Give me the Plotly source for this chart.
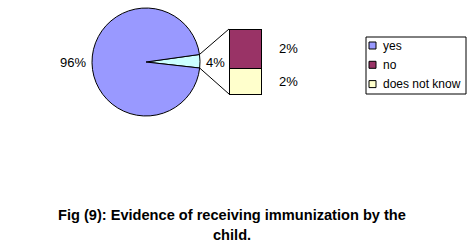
import math
import plotly.graph_objects as go

# ---- data ----
pie_labels = ["other", "yes"]
pie_values = [4, 96]
pie_text = ["4%", "96%"]
bar_labels = ["does not know", "no"]
bar_values = [1.6, 2.4]
bar_text = ["2%", "2%"]
legend_labels = ["yes", "no", "does not know"]
title_lines = ["Fig (9): Evidence of receiving immunization by the", "child."]

# ---- style ----
W, H = 471, 248
C_YES, C_OTHER, C_NO, C_DNK = "#9999FF", "#CCFFFF", "#993366", "#FFFFCC"
FONT = "Liberation Sans, Arial, sans-serif"
cx, cy, r = 146, 62, 54
rotation = 82
bar_x0, bar_x1, bar_top, bar_bot = 229, 261, 29, 94
pad = 4  # pixels of axis padding so outlines are not clipped

def px(x):
    return x / W

def py(y):
    return 1 - y / H

fig = go.Figure()
fig.add_trace(go.Pie(
    labels=pie_labels, values=pie_values, sort=False, direction="clockwise",
    rotation=rotation, textinfo="none", hoverinfo="label+percent",
    marker=dict(colors=[C_OTHER, C_YES], line=dict(color="black", width=1)),
    domain=dict(x=[px(cx - r), px(cx + r)], y=[py(cy + r), py(cy - r)]),
    showlegend=False,
))

for lab, val, col in zip(bar_labels, bar_values, [C_DNK, C_NO]):
    fig.add_trace(go.Bar(
        x=[0], y=[val], name=lab, width=1, showlegend=False,
        marker=dict(color=col, line=dict(color="black", width=1)),
        xaxis="x", yaxis="y", cliponaxis=False,
    ))

total_other = sum(bar_values)
bw = bar_x1 - bar_x0
bh = bar_bot - bar_top
dx = pad / bw
dy = pad / bh * total_other
fig.update_layout(
    width=W, height=H, margin=dict(l=0, r=0, t=0, b=0),
    paper_bgcolor="white", plot_bgcolor="rgba(0,0,0,0)",
    barmode="stack",
    xaxis=dict(domain=[px(bar_x0 - pad), px(bar_x1 + pad)], range=[-0.5 - dx, 0.5 + dx],
               visible=False, fixedrange=True),
    yaxis=dict(domain=[py(bar_bot + pad), py(bar_top - pad)], range=[-dy, total_other + dy],
               visible=False, fixedrange=True),
)

# connector lines from pie slice edges to bar corners
tot = sum(pie_values)
a1 = math.radians(rotation)
a2 = math.radians(rotation + 360 * pie_values[0] / tot)
for a, by in [(a1, bar_top), (a2, bar_bot)]:
    ex = cx + r * math.sin(a)
    ey = cy - r * math.cos(a)
    fig.add_shape(type="line", xref="paper", yref="paper",
                  x0=px(ex), y0=py(ey), x1=px(bar_x0), y1=py(by),
                  line=dict(color="black", width=1))

# pie labels
fig.add_annotation(x=px(cx - r - 4), y=py(cy), xref="paper", yref="paper",
                   text=pie_text[1], showarrow=False, xanchor="right", yanchor="middle",
                   font=dict(family=FONT, size=13, color="black"))
fig.add_annotation(x=px(cx + r + 4), y=py(cy), xref="paper", yref="paper",
                   text=pie_text[0], showarrow=False, xanchor="left", yanchor="middle",
                   font=dict(family=FONT, size=13, color="black"))

# bar labels
cum = 0
for val, t in zip(bar_values, bar_text):
    fig.add_annotation(x=0.5, y=cum + val / 2, xref="x", yref="y", xshift=16,
                       text=t, showarrow=False, xanchor="left", yanchor="middle",
                       font=dict(family=FONT, size=13, color="black"))
    cum += val

# legend (box + swatches)
lx0, lx1, ly0, ly1 = 366, 466, 37, 94
fig.add_shape(type="rect", xref="paper", yref="paper",
              x0=px(lx0), x1=px(lx1), y0=py(ly1), y1=py(ly0),
              line=dict(color="black", width=1), fillcolor="white")
for i, (lab, col) in enumerate(zip(legend_labels, [C_YES, C_NO, C_DNK])):
    yc = 45.5 + i * 19.3
    fig.add_shape(type="rect", xref="paper", yref="paper",
                  x0=px(lx0 + 3), x1=px(lx0 + 10), y0=py(yc + 3.5), y1=py(yc - 3.5),
                  line=dict(color="black", width=1), fillcolor=col)
    fig.add_annotation(x=px(lx0 + 15), y=py(yc), xref="paper", yref="paper",
                       text=lab, showarrow=False, xanchor="left", yanchor="middle",
                       font=dict(family=FONT, size=12, color="black"))

# title
for i, line in enumerate(title_lines):
    fig.add_annotation(x=px(232), y=py(215 + i * 20), xref="paper", yref="paper",
                       text="<b>" + line + "</b>", showarrow=False,
                       xanchor="center", yanchor="middle",
                       font=dict(family=FONT, size=14.6, color="black"))

fig.write_html("out.html")
